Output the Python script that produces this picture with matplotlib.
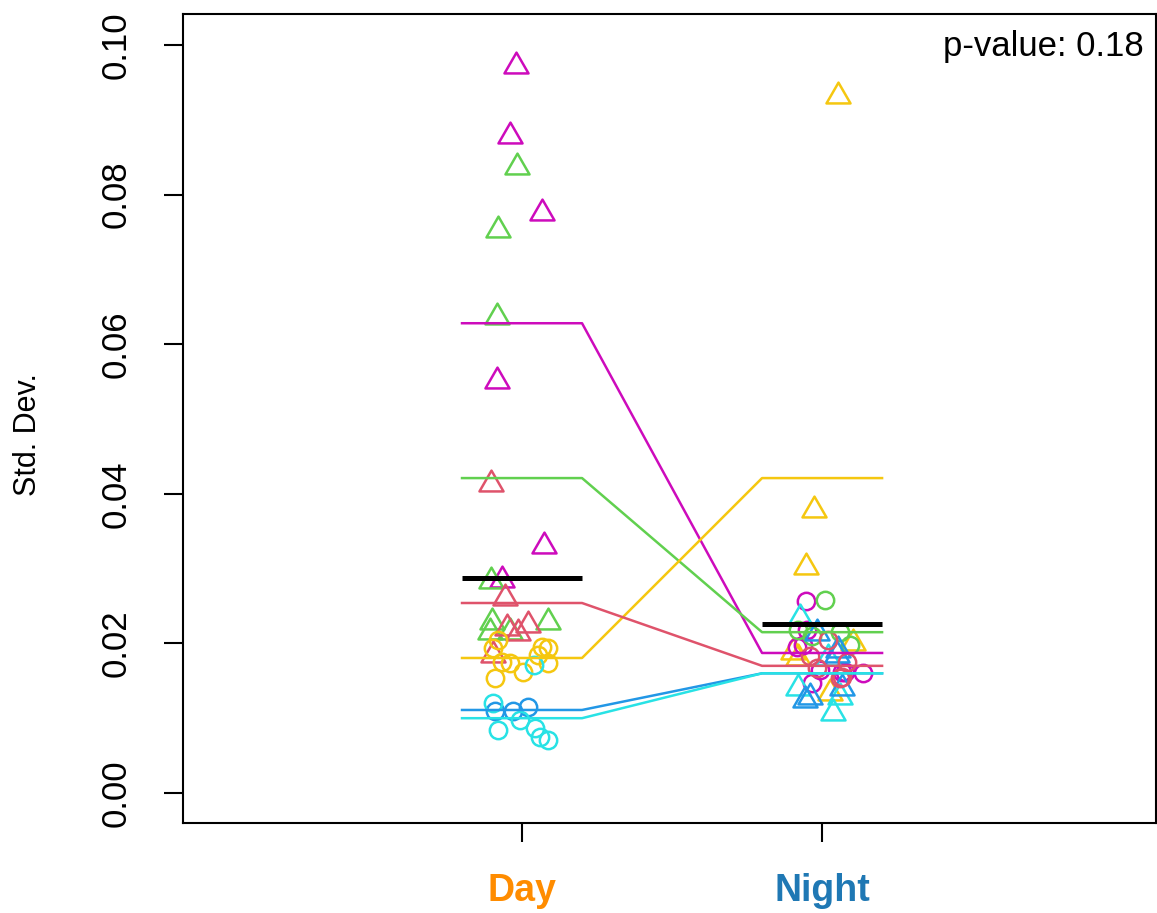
import matplotlib.pyplot as plt
from matplotlib.path import Path

plt.rcParams['font.family'] = ['Liberation Sans', 'DejaVu Sans']

# categories
categorias = ["Day", "Night"]
cores_categorias = ["#FF8C00", "#1F78B4"]

# group colours (R palette)
magenta = "#CD0BBC"
verde = "#61D04F"
amarelo = "#F5C710"
vermelho = "#DF536B"
azul = "#2297E6"
ciano = "#28E2E5"

# Day points: (x jitter around 1, value)
dia_magenta_x = [-0.02, -0.04, 0.067, -0.083, 0.073, -0.067]
dia_magenta_y = [0.0972, 0.0878, 0.0775, 0.0551, 0.0330, 0.0285]
dia_verde_x = [-0.017, -0.08, -0.083, -0.103, -0.1, 0.087, -0.107, -0.04]
dia_verde_y = [0.0837, 0.0753, 0.0636, 0.0283, 0.0229, 0.0229, 0.0215, 0.0215]
dia_vermelho_x = [-0.103, -0.057, 0.02, -0.05, -0.013, -0.097]
dia_vermelho_y = [0.0413, 0.0261, 0.0225, 0.0221, 0.0214, 0.0185]
dia_amarelo_x = [-0.097, 0.067, 0.087, 0.053, -0.067, -0.04, 0.003, 0.087, -0.09, -0.08]
dia_amarelo_y = [0.0194, 0.0195, 0.0194, 0.0184, 0.0175, 0.0174, 0.0162, 0.0174, 0.0154, 0.0205]
dia_azul_x = [-0.09, -0.03, 0.02]
dia_azul_y = [0.0110, 0.0110, 0.0115]
dia_ciano_x = [-0.097, -0.007, -0.08, 0.043, 0.06, 0.087, 0.04]
dia_ciano_y = [0.0120, 0.0098, 0.0084, 0.0087, 0.0075, 0.0071, 0.0171]

# Night points: (x jitter around 2, value)
noite_amarelo_x = [0.053, -0.027, -0.053, -0.097, -0.08, 0.103, 0.027]
noite_amarelo_y = [0.0932, 0.0378, 0.0302, 0.0188, 0.0180, 0.0200, 0.0134]
noite_magenta_x = [-0.053, -0.05, -0.083, -0.063, -0.007, 0.077, -0.033, 0.067, 0.137]
noite_magenta_y = [0.0257, 0.0218, 0.0195, 0.0198, 0.0164, 0.0162, 0.0147, 0.0162, 0.0160]
noite_verde_x = [0.01, -0.08, 0.06, 0.093, -0.033]
noite_verde_y = [0.0258, 0.0218, 0.0215, 0.0198, 0.0210]
noite_ciano_x = [-0.073, -0.08, 0.037, 0.06, 0.02]
noite_ciano_y = [0.0234, 0.0140, 0.0107, 0.0128, 0.0180]
noite_azul_x = [0.053, -0.04, -0.057, 0.067, -0.017, 0.05]
noite_azul_y = [0.0191, 0.0128, 0.0124, 0.0140, 0.0214, 0.0184]
noite_vermelho_x = [0.02, 0.083, 0.06, -0.017, -0.04, 0.067]
noite_vermelho_y = [0.0205, 0.0175, 0.0154, 0.0167, 0.0183, 0.0155]

# group means (Day, Night)
medias_magenta = [0.0628, 0.01872]
medias_verde = [0.0421, 0.0215]
medias_amarelo = [0.01805, 0.0421]
medias_vermelho = [0.0254, 0.0170]
medias_azul = [0.0111, 0.0160]
medias_ciano = [0.0100, 0.0160]

# overall means
media_geral = [0.02874, 0.02259]
p_valor = 0.18

# equilateral triangle like R pch=2
tri = Path([(0, 1.155), (-1, -0.577), (1, -0.577), (0, 1.155)],
           [Path.MOVETO, Path.LINETO, Path.LINETO, Path.CLOSEPOLY])

fig = plt.figure(figsize=(11.57, 9.13), dpi=100)
ax = fig.add_axes([183 / 1157, 90 / 913, 973 / 1157, 809 / 913])

pontos = [
    (1, dia_magenta_x, dia_magenta_y, magenta, tri, 20),
    (1, dia_verde_x, dia_verde_y, verde, tri, 20),
    (1, dia_vermelho_x, dia_vermelho_y, vermelho, tri, 20),
    (1, dia_amarelo_x, dia_amarelo_y, amarelo, "o", 12.5),
    (1, dia_azul_x, dia_azul_y, azul, "o", 12.5),
    (1, dia_ciano_x, dia_ciano_y, ciano, "o", 12.5),
    (2, noite_amarelo_x, noite_amarelo_y, amarelo, tri, 20),
    (2, noite_magenta_x, noite_magenta_y, magenta, "o", 12.5),
    (2, noite_verde_x, noite_verde_y, verde, "o", 12.5),
    (2, noite_ciano_x, noite_ciano_y, ciano, tri, 20),
    (2, noite_azul_x, noite_azul_y, azul, tri, 20),
    (2, noite_vermelho_x, noite_vermelho_y, vermelho, "o", 12.5),
]
for pos, xs, ys, cor, marc, ms in pontos:
    ax.plot([pos + x for x in xs], ys, linestyle="none", marker=marc,
            markersize=ms, markerfacecolor="none", markeredgecolor=cor,
            markeredgewidth=1.8)

for medias, cor in [(medias_magenta, magenta), (medias_verde, verde),
                    (medias_amarelo, amarelo), (medias_vermelho, vermelho),
                    (medias_azul, azul), (medias_ciano, ciano)]:
    ax.plot([0.8, 1.2, 1.8, 2.2], [medias[0], medias[0], medias[1], medias[1]],
            color=cor, linewidth=1.8)

for i, m in enumerate(media_geral):
    ax.plot([i + 0.8, i + 1.2], [m, m], color="black", linewidth=3.6,
            solid_capstyle="butt")

ax.set_xlim(-0.13, 3.113)
ax.set_ylim(-0.00401, 0.10414)
ax.set_xticks([1, 2])
ax.set_xticklabels(categorias, fontsize=27, fontweight="bold")
for lab, cor in zip(ax.get_xticklabels(), cores_categorias):
    lab.set_color(cor)
ax.set_yticks([0, 0.02, 0.04, 0.06, 0.08, 0.10])
ax.set_yticklabels(["0.00", "0.02", "0.04", "0.06", "0.08", "0.10"],
                   fontsize=25, rotation=90, va="center")
ax.tick_params(axis="y", length=14, width=1.5, pad=22)
ax.tick_params(axis="x", length=14, width=1.5, pad=22)
for s in ax.spines.values():
    s.set_linewidth(1.5)

fig.text(28 / 1157, (913 - 435) / 913, "Std. Dev.", rotation=90,
         ha="center", va="center", fontsize=22)

ax.text(0.987, 0.96, f"p-value: {p_valor}", transform=ax.transAxes,
        ha="right", va="center", fontsize=25)

fig.savefig("out.png", dpi=100)
